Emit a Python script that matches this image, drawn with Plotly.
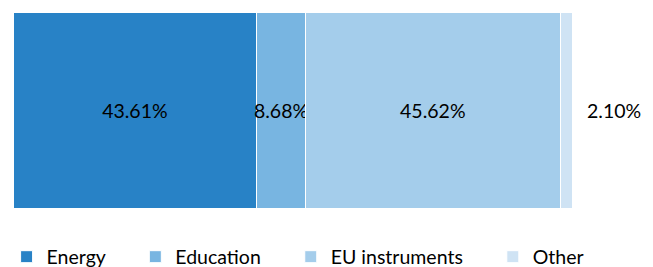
import plotly.graph_objects as go

categories = ["Energy", "Education", "EU instruments", "Other"]
shares = [43.61, 8.68, 45.62, 2.10]
colors = ["#2882C6", "#78B5E1", "#A4CDEB", "#CFE3F4"]

FONT = "Lato"
SIZE = 19.5
pad = "\u00a0" * 5

fig = go.Figure()
for i, (name, val, col) in enumerate(zip(categories, shares, colors)):
    last = i == len(categories) - 1
    fig.add_trace(go.Bar(
        x=[val], y=[""], orientation="h", name=name + ("" if last else pad),
        marker=dict(color=col, line=dict(color="white", width=1)),
        text=[f"{val:.2f}%"],
        textposition="none" if last else "inside",
        insidetextanchor="middle",
        textangle=0,
        constraintext="none",
        cliponaxis=False,
        textfont=dict(color="black", size=SIZE, family=FONT),
        width=1,
    ))

total = sum(shares)
fig.add_annotation(x=total, y=0, xref="x", yref="y", text=f"{shares[-1]:.2f}%",
                   showarrow=False, xanchor="left", xshift=13,
                   font=dict(color="black", size=SIZE, family=FONT))

fig.update_layout(
    barmode="stack",
    width=645, height=259,
    margin=dict(l=5, r=0, t=4, b=59, autoexpand=False),
    paper_bgcolor="white", plot_bgcolor="white",
    xaxis=dict(range=[0, 114.5], visible=False),
    yaxis=dict(range=[-0.5, 0.5], visible=False),
    showlegend=True,
    legend=dict(orientation="h", x=-0.01, xanchor="left", y=-0.25, yanchor="middle",
                font=dict(size=SIZE, family=FONT, color="black"), traceorder="normal"),
)
fig.write_html("out.html")
